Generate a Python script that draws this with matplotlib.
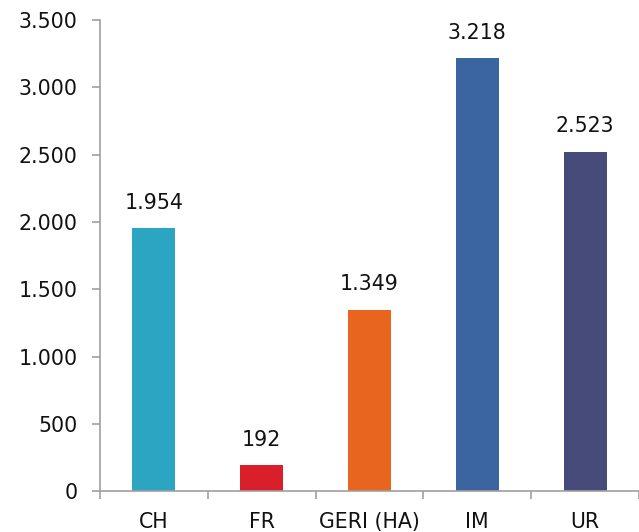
import matplotlib
matplotlib.use("Agg")
import matplotlib.pyplot as plt
from matplotlib.ticker import FuncFormatter, FixedLocator

categories = ["CH", "FR", "GERI (HA)", "IM", "UR"]
values = [1954, 192, 1349, 3218, 2523]
colors = ["#2ca5c2", "#d9202a", "#e8651f", "#3a65a0", "#474b7a"]


def dot_thousands(v, pos=None):
    return f"{int(v):,}".replace(",", ".")


plt.rcParams["font.family"] = ["DejaVu Sans"]
fs = 14.8

fig = plt.figure(figsize=(6.39, 5.32), dpi=100)
ax = fig.add_axes([0.1565, 0.077, 0.8435, 0.885])

x = range(len(categories))
bars = ax.bar(x, values, width=0.4, color=colors)

for b, v in zip(bars, values):
    ax.annotate(dot_thousands(v), (b.get_x() + b.get_width() / 2, v),
                xytext=(0, 11), textcoords="offset points",
                ha="center", va="bottom", fontsize=fs, color="#111111")

ax.set_xlim(-0.5, len(categories) - 0.5)
ax.set_ylim(0, 3500)
ax.set_yticks(range(0, 3501, 500))
ax.yaxis.set_major_formatter(FuncFormatter(dot_thousands))

ax.set_xticks(list(x))
ax.set_xticklabels(categories)
ax.xaxis.set_minor_locator(FixedLocator([i - 0.5 for i in range(len(categories) + 1)]))

for side in ("top", "right"):
    ax.spines[side].set_visible(False)
for side in ("left", "bottom"):
    ax.spines[side].set_color("#a0a0a0")
    ax.spines[side].set_linewidth(1.2)

ax.tick_params(axis="y", length=6, width=1.2, color="#a0a0a0",
               labelsize=fs, pad=10, labelcolor="#111111")
ax.tick_params(axis="x", which="major", length=0, labelsize=fs,
               pad=15, labelcolor="#111111")
ax.tick_params(axis="x", which="minor", length=6, width=1.2, color="#a0a0a0")

fig.savefig("out.png", dpi=100)
